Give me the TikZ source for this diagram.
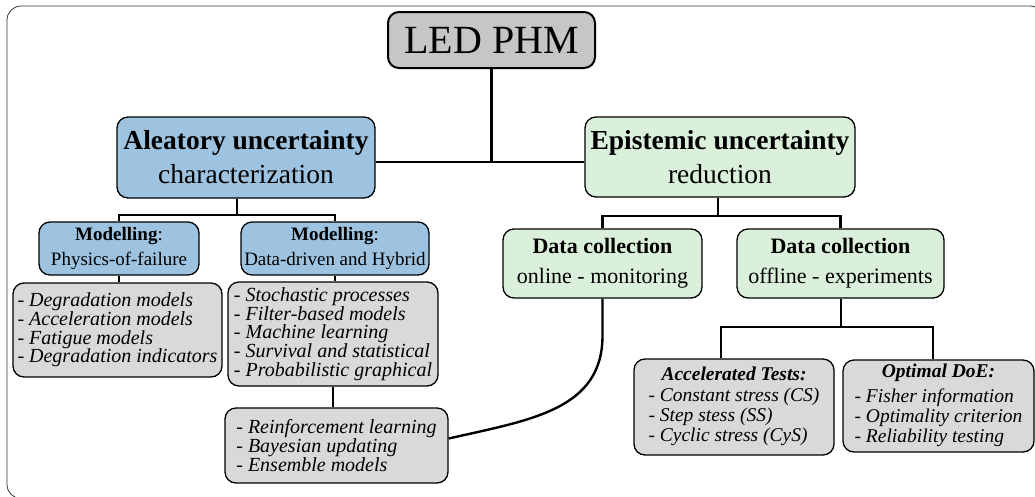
\documentclass[tikz,border=0pt]{standalone}
\usepackage{fontspec}
\setmainfont{Liberation Serif}
\definecolor{aleablue}{HTML}{9DC3E0}
\definecolor{epigreen}{HTML}{DAF0DA}
\definecolor{listgray}{HTML}{D9D9D9}
\definecolor{topgray}{HTML}{C6C6C6}

\begin{document}
\begin{tikzpicture}[x=1pt,y=-1pt,
  box/.style={draw=black,line width=1.3pt,rounded corners=11pt,inner sep=0pt,align=center},
  listbox/.style={box,fill=listgray,align=left,font=\fontsize{20}{18.7}\selectfont\itshape},
  testbox/.style={box,fill=listgray,font=\fontsize{19.5}{20}\selectfont},
  link/.style={line width=2.4pt}]
\useasboundingbox (0,0) rectangle (1035,496);

% frame
\draw[line width=0.8pt,black!80,rounded corners=14pt] (7,6) rectangle (1044,498.5);

% top
\node[box,fill=topgray,line width=2pt,minimum width=207pt,minimum height=56pt,
  font=\fontsize{40}{44}\selectfont] (led) at (491.5,40) {LED PHM};

% two branches
\node[box,fill=aleablue,minimum width=258pt,minimum height=81pt,
  font=\fontsize{27.5}{34}\selectfont] (alea) at (246,157.5)
  {\textbf{Aleatory uncertainty}\\characterization};
\node[box,fill=epigreen,minimum width=270pt,minimum height=80pt,
  font=\fontsize{27.5}{34}\selectfont] (epist) at (720,157)
  {\textbf{Epistemic uncertainty}\\reduction};

% modelling
\node[box,fill=aleablue,minimum width=160pt,minimum height=53pt,
  font=\fontsize{19}{25}\selectfont] (pof) at (119,248.5)
  {\textbf{Modelling}:\\Physics-of-failure};
\node[box,fill=aleablue,minimum width=188pt,minimum height=53pt,
  font=\fontsize{19}{25}\selectfont] (ddh) at (335,248.5)
  {\textbf{Modelling}:\\Data-driven and Hybrid};

\node[listbox,minimum width=209pt,minimum height=94pt] (pofl) at (117.5,330)
  {- Degradation models\\- Acceleration models\\- Fatigue models\\- Degradation indicators};
\node[listbox,minimum width=210pt,minimum height=104pt] (ddhl) at (333,334)
  {- Stochastic processes\\- Filter-based models\\- Machine learning\\- Survival and statistical\\- Probabilistic graphical};
\node[listbox,minimum width=223pt,minimum height=75pt] (ddhx) at (336.5,445.5)
  {- Reinforcement learning\\- Bayesian updating\\- Ensemble models};

% data collection
\node[box,fill=epigreen,minimum width=199pt,minimum height=69pt,
  font=\fontsize{22}{30}\selectfont] (online) at (602.5,263.5)
  {\textbf{Data collection}\\online - monitoring};
\node[box,fill=epigreen,minimum width=207pt,minimum height=69pt,
  font=\fontsize{22}{30}\selectfont] (offline) at (840.5,263.5)
  {\textbf{Data collection}\\offline - experiments};

\node[testbox,minimum width=200pt,minimum height=96pt] (acct) at (734,407)
  {\textbf{\itshape Accelerated Tests:}\\[6pt]\itshape\begin{tabular}{@{}l@{}}- Constant stress (CS)\\- Step stess (SS)\\- Cyclic stress (CyS)\end{tabular}};
\node[testbox,minimum width=191pt,minimum height=92pt] (doe) at (938.5,406)
  {\textbf{\itshape Optimal DoE:}\\[6pt]\itshape\begin{tabular}{@{}l@{}}- Fisher information\\- Optimality criterion\\- Reliability testing\end{tabular}};

% connectors
\coordinate (top) at (491,162);
\draw[link] (led.south) -- (led.south |- top);
\draw[link] (alea.east |- top) -- (epist.west |- top);

\coordinate (aj) at (237,215);
\draw[link] (aj |- alea.south) -- (aj);
\draw[link] (pof.north) |- (aj) -| (ddh.north);
\draw[link] (pof.south) -- (pof.south |- pofl.north);
\draw[link] (ddh.south) -- (ddh.south |- ddhl.north);
\draw[link] (ddhl.south) -- (ddhl.south |- ddhx.north);

\coordinate (ej) at (718,216);
\draw[link] (ej |- epist.south) -- (ej);
\draw[link] (online.north) |- (ej) -| (offline.north);

\coordinate (oj) at (841,327);
\coordinate (accj) at (721,327);
\coordinate (doej) at (933,327);
\draw[link] (offline.south -| oj) -- (oj);
\draw[link] (accj |- acct.north) -- (accj) -- (doej) -- (doej |- doe.north);

\draw[link] (online.south) -- ++(0,37) .. controls (602.5,410) and (530,420) .. ([yshift=7pt]ddhx.east);
\end{tikzpicture}
\end{document}
